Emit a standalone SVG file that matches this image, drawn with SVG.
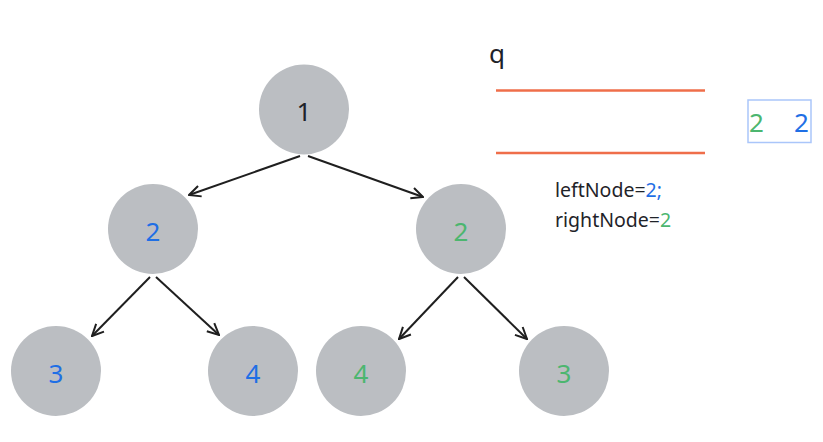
<svg xmlns="http://www.w3.org/2000/svg" width="823" height="442" viewBox="0 0 823 442">
<defs>
<marker id="ah" viewBox="0 0 14 14" refX="13" refY="7" markerWidth="14" markerHeight="14" markerUnits="userSpaceOnUse" orient="auto">
<path d="M1.5,1.5 L13,7 L1.5,12.5" fill="none" stroke="#1f1f1f" stroke-width="2"/>
</marker>
<style>
.n{fill:#bbbec2}
.t{font-family:"Noto Sans","DejaVu Sans",sans-serif;font-size:26px;text-anchor:middle}
.k{fill:#1f2329}.b{fill:#1f6fe5}.g{fill:#4cb66f}
.c{stroke:#1f1f1f;stroke-width:2;fill:none}
.o{stroke:#ef6e4a;stroke-width:2.5}
.s{font-family:"Noto Sans","DejaVu Sans",sans-serif;font-size:19.5px;fill:#1f2329}
</style>
</defs>
<rect width="823" height="442" fill="#ffffff"/>
<g id="connectors">
<line class="c" x1="300" y1="156" x2="189" y2="195" marker-end="url(#ah)"/>
<line class="c" x1="308" y1="156" x2="423" y2="197" marker-end="url(#ah)"/>
<line class="c" x1="150" y1="277" x2="92" y2="336" marker-end="url(#ah)"/>
<line class="c" x1="156" y1="277" x2="219" y2="335" marker-end="url(#ah)"/>
<line class="c" x1="458" y1="277" x2="399" y2="339" marker-end="url(#ah)"/>
<line class="c" x1="464" y1="277" x2="527" y2="339" marker-end="url(#ah)"/>
</g>
<g id="node1"><circle class="n" cx="304" cy="109.5" r="45"/><text class="t k" x="304" y="121">1</text></g>
<g id="node2L"><circle class="n" cx="153" cy="229" r="45"/><text class="t b" x="153" y="241">2</text></g>
<g id="node2R"><circle class="n" cx="461" cy="229" r="45"/><text class="t g" x="461" y="241">2</text></g>
<g id="node3L"><circle class="n" cx="56" cy="371" r="45"/><text class="t b" x="56" y="383">3</text></g>
<g id="node4L"><circle class="n" cx="253" cy="371" r="45"/><text class="t b" x="253" y="383">4</text></g>
<g id="node4R"><circle class="n" cx="361" cy="371" r="45"/><text class="t g" x="361" y="383">4</text></g>
<g id="node3R"><circle class="n" cx="564" cy="371" r="45"/><text class="t g" x="564" y="383">3</text></g>
<g id="queue">
<text class="t k" x="497" y="63">q</text>
<line class="o" x1="496" y1="90.5" x2="705" y2="90.5"/>
<line class="o" x1="496" y1="153" x2="705" y2="153"/>
<rect x="748" y="100" width="63" height="42.5" fill="none" stroke="#aac6fa" stroke-width="1.5"/>
<text class="t g" x="756.5" y="132">2</text>
<text class="t b" x="801.5" y="132">2</text>
</g>
<g id="labels">
<text class="s" x="555" y="197">leftNode=<tspan class="b">2;</tspan></text>
<text class="s" x="555" y="227">rightNode=<tspan class="g">2</tspan></text>
</g>
</svg>
